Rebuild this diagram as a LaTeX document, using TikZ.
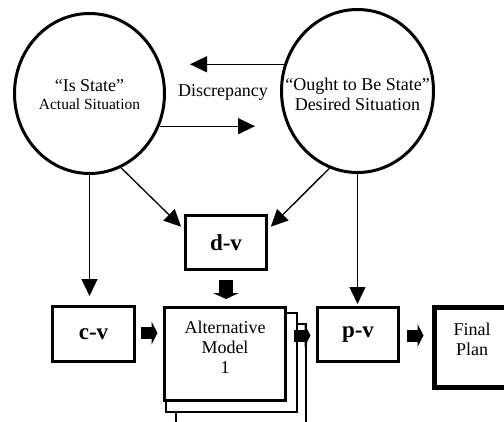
\documentclass[tikz,border=0pt]{standalone}
\usepackage{fontspec}
\setmainfont{Liberation Serif}
\usetikzlibrary{arrows.meta,shapes.geometric}

\begin{document}
\begin{tikzpicture}[x=1pt,y=-1pt,
        state/.style={draw,ellipse,line width=3pt},
        box/.style={draw,fill=white,line width=3pt,align=center},
        page/.style={draw,fill=white,line width=1.5pt},
        thinarrow/.style={line width=1.3pt,-{Triangle[length=17pt,width=16pt]}},
        blockarrow/.style={line width=12pt,-{Triangle[length=6pt,width=23pt,line width=0pt]}},
        txt/.style={font=\fontsize{18}{21}\selectfont,align=center}]
        \useasboundingbox (0,0) rectangle (504,421);
        \clip (0,0) rectangle (504,421);

        % the two states
        \node[state,minimum width=150pt,minimum height=160pt] (is) at (89.5,93.5) {};
        \node[state,minimum width=152pt,minimum height=163pt] (ought) at (357.5,91) {};
        \node[txt] (istxt) at ([yshift=-1]is.center) {“Is State”\\[-3pt]{\fontsize{15.5}{18}\selectfont Actual Situation}};
        \node[txt] (oughttxt) at ([yshift=-3]ought.center) {“Ought to Be State”\\[-1pt]Desired Situation};

        % discrepancy
        \coordinate (dl) at (190,63);
        \coordinate (dr) at (255,128);
        \draw[thinarrow] (ought.160) -- (ought.160 -| dl);
        \draw[thinarrow] (is.-25) -- (is.-25 -| dr);
        \node[txt] (disc) at (223,92) {Discrepancy};

        % value boxes
        \node[box,minimum width=81pt,minimum height=54pt] (dv) at (226,242.5) {\textbf{\fontsize{23}{27}\selectfont d-v}};
        \node[box,minimum width=82pt,minimum height=55pt] (cv) at (93.5,334) {\textbf{\fontsize{23}{27}\selectfont c-v}};
        \node[box,minimum width=81pt,minimum height=54pt] (pv) at (358,334.5) {\textbf{\fontsize{23}{27}\selectfont p-v}};

        % alternative models, stacked
        \draw[page] (176,324) rectangle (306,440);
        \draw[page] (166,313) rectangle (297,412);
        \node[box,txt,minimum width=121pt,minimum height=93pt,text depth=13pt] (alt) at (225,354) {Alternative\\[-1pt]Model\\[-1pt]1};

        \node[box,txt,line width=5pt,minimum width=75pt,minimum height=80pt,text depth=16pt] (final) at (472,347.5) {Final\\[-1pt]Plan};

        \draw[thinarrow,shorten >=9pt] (is.south) -- (is.south |- cv.north);
        \draw[thinarrow,shorten >=2pt] (ought.south) -- (ought.south |- pv.north);
        \draw[thinarrow,shorten >=4pt] (is.-67) -- ([yshift=13]dv.west);
        \draw[thinarrow,shorten >=4pt] (ought.-110) -- ([yshift=13]dv.east);

        \draw[blockarrow,line width=14pt,-{Triangle[length=6pt,width=26pt,line width=0pt]}] ([yshift=-9]dv.south) -- ([yshift=7]dv.south |- alt.north);
        \draw[blockarrow] ([xshift=4.5,yshift=1]cv.east) -- ([xshift=-5.5,yshift=1]cv.east -| alt.west);
        \draw[blockarrow] ([xshift=6.5,yshift=-1]pv.west -| alt.east) -- ([xshift=-5.5,yshift=-1]pv.west);
        \draw[blockarrow] ([xshift=6.5,yshift=-1]pv.east) -- ([xshift=-8.5,yshift=-1]pv.east -| final.west);
\end{tikzpicture}
\end{document}
